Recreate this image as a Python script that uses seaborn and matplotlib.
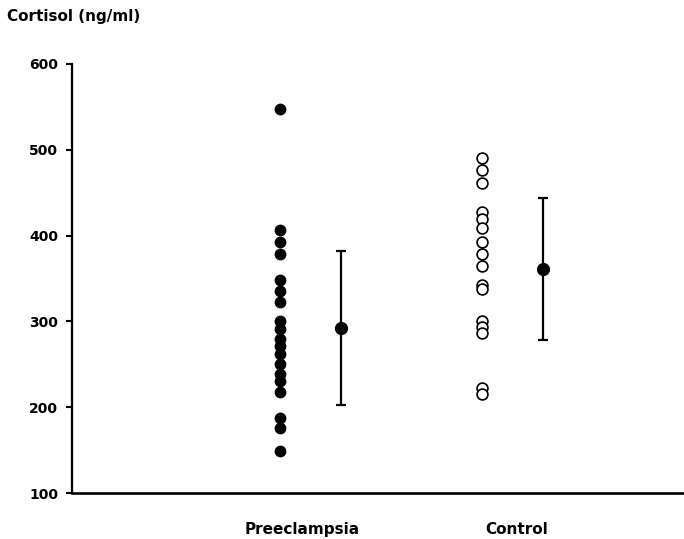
import numpy as np
import pandas as pd
import matplotlib
matplotlib.use("Agg")
import matplotlib.pyplot as plt
import seaborn as sns

# ==========================================
# Data
# ==========================================
groups = ["Preeclampsia", "Control"]
preeclampsia = [548, 406, 392, 378, 348, 336, 323, 301, 291, 279, 271, 262,
                250, 239, 230, 218, 187, 176, 149]
control = [490, 477, 461, 428, 419, 409, 393, 378, 364, 342, 338, 300, 293,
           287, 222, 215]
group_means = [292, 361]
group_sds = [90, 83]

df = pd.DataFrame({
    "group": ["Preeclampsia"] * len(preeclampsia) + ["Control"] * len(control),
    "cortisol": preeclampsia + control,
})

# ==========================================
# Style
# ==========================================
sns.set_style("ticks", {"axes.edgecolor": "black", "text.color": "black",
                        "xtick.color": "black", "ytick.color": "black"})
plt.rcParams["font.family"] = ["DejaVu Sans"]
plt.rcParams["font.weight"] = "bold"

fig = plt.figure(figsize=(6.84, 5.39), dpi=100)
ax = fig.add_axes([0.1053, 0.0853, 0.8947, 0.796])

# individual values: filled for preeclampsia, open for control
sns.stripplot(data=df[df["group"] == "Preeclampsia"], x="group", y="cortisol",
              order=groups, jitter=False, color="black", size=8.5, ax=ax)
sns.stripplot(data=df[df["group"] == "Control"], x="group", y="cortisol",
              order=groups, jitter=False, color="white", edgecolor="black",
              linewidth=1.2, size=7.8, ax=ax)

# mean +/- SD beside each column
pos = np.arange(len(groups))
ax.errorbar(pos + 0.3, group_means, yerr=group_sds, fmt="o", color="black",
            ms=8.5, elinewidth=1.6, capsize=3.8, capthick=1.6)

ax.set_xlim(-1.03, 2.0)
ax.set_ylim(100, 600)
ax.set_yticks([100, 200, 300, 400, 500, 600])
ax.set_xticks(pos + np.array([0.11, 0.17]))
ax.set_xticklabels(groups, fontsize=11, fontweight="bold", color="black")
ax.tick_params(axis="x", length=0, pad=21)
ax.tick_params(axis="y", length=4.5, width=1.5, pad=5.5, labelsize=10,
               colors="black")
for lab in ax.get_yticklabels():
    lab.set_fontweight("bold")
ax.set_xlabel("")
ax.set_ylabel("")

sns.despine(ax=ax)
ax.spines["left"].set_linewidth(1.6)
ax.spines["bottom"].set_linewidth(1.9)

fig.text(0.01, 1 - 17 / 539, "Cortisol (ng/ml)", fontsize=11,
         fontweight="bold", va="center", ha="left", color="black")

plt.savefig("out.png", dpi=100)
